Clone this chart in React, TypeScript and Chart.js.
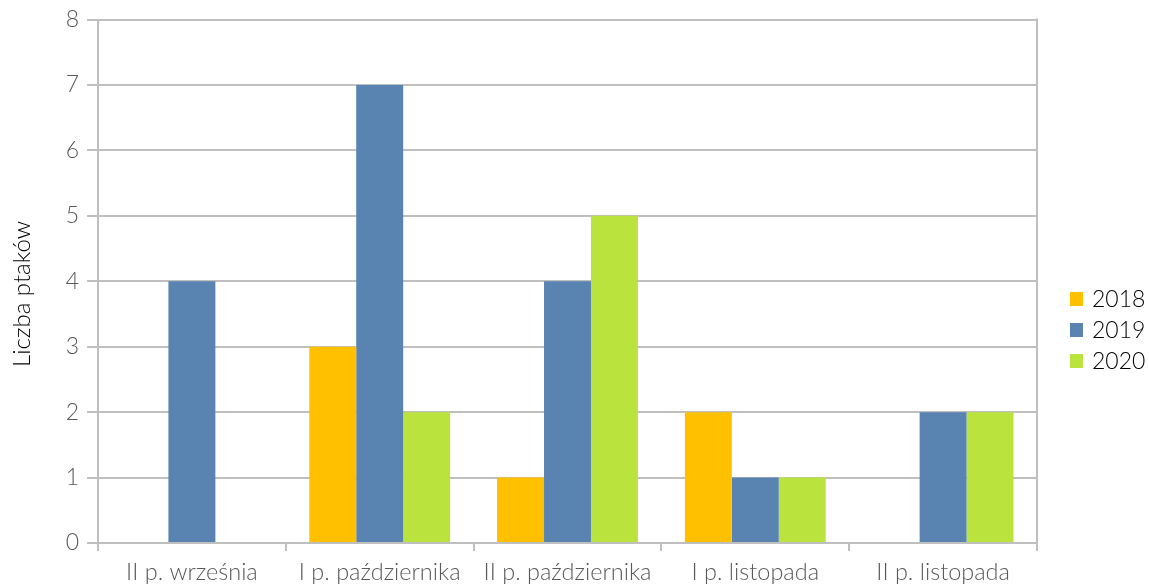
import React, { useEffect, useRef } from "react";
import { Chart, registerables } from "chart.js";

Chart.register(...registerables);

const categories = ["II p. września", "I p. października", "II p. października", "I p. listopada", "II p. listopada"];
const seriesNames = ["2018", "2019", "2020"];
const values2018 = [0, 3, 1, 2, 0];
const values2019 = [4, 7, 4, 1, 2];
const values2020 = [0, 2, 5, 1, 2];
const seriesColors = ["#FFC000", "#5983B0", "#BBE33D"];
const yTitle = "Liczba ptaków";

const FONT = "Lato, 'Noto Sans', sans-serif";
const GRID = "#BFBFBF";

const extrasPlugin = {
  id: "extras",
  afterDraw(chart: any) {
    const ctx = chart.ctx;
    const area = chart.chartArea;
    ctx.save();
    ctx.strokeStyle = GRID;
    ctx.lineWidth = 2;
    ctx.beginPath();
    ctx.moveTo(area.right, area.top - 1);
    ctx.lineTo(area.right, area.bottom);
    ctx.stroke();
    ctx.fillStyle = "#000000";
    ctx.font = `300 24px ${FONT}`;
    ctx.textAlign = "center";
    ctx.textBaseline = "middle";
    ctx.translate(22, 294);
    ctx.rotate(-Math.PI / 2);
    ctx.fillText(yTitle, 0, 0);
    ctx.restore();
    ctx.save();
    ctx.font = `300 23px ${FONT}`;
    ctx.textAlign = "left";
    ctx.textBaseline = "middle";
    seriesNames.forEach((name, i) => {
      const cy = 299 + i * 31;
      ctx.fillStyle = seriesColors[i];
      ctx.fillRect(1070, cy - 7, 13, 14);
      ctx.fillStyle = "#000000";
      ctx.fillText(name, 1092, cy + 1);
    });
    ctx.restore();
  },
};

export default function App() {
  const ref = useRef<HTMLCanvasElement>(null);
  useEffect(() => {
    document.body.style.margin = "0";
    const chart = new Chart(ref.current!, {
      type: "bar",
      data: {
        labels: categories,
        datasets: [values2018, values2019, values2020].map((d, i) => ({
          label: seriesNames[i],
          data: d,
          backgroundColor: seriesColors[i],
          borderWidth: 0,
          categoryPercentage: 0.75,
          barPercentage: 1,
        })),
      },
      options: {
        animation: false,
        responsive: true,
        maintainAspectRatio: false,
        layout: { padding: { left: 0, top: 17, right: 112, bottom: 0 } },
        plugins: { legend: { display: false }, tooltip: { enabled: false } },
        scales: {
          x: {
            grid: { drawOnChartArea: false, color: GRID, lineWidth: 2, tickLength: 8, offset: true },
            border: { color: GRID, width: 2 },
            ticks: { color: "#595959", font: { family: FONT, size: 23.5, weight: "300" }, padding: 7, maxRotation: 0 },
            afterFit: (s: any) => { s.height = 45; },
          },
          y: {
            min: 0,
            max: 8,
            ticks: { stepSize: 1, color: "#595959", font: { family: FONT, size: 23, weight: "300", lineHeight: 1 }, padding: 8 },
            grid: { color: GRID, lineWidth: 2, tickLength: 11 },
            border: { color: GRID, width: 2 },
            afterFit: (s: any) => { s.width = 98; },
          },
        },
      },
      plugins: [extrasPlugin],
    });
    return () => chart.destroy();
  }, []);
  return (
    <div style={{ position: "fixed", left: 0, top: 0, width: 1149, height: 588 }}>
      <canvas ref={ref} />
    </div>
  );
}
